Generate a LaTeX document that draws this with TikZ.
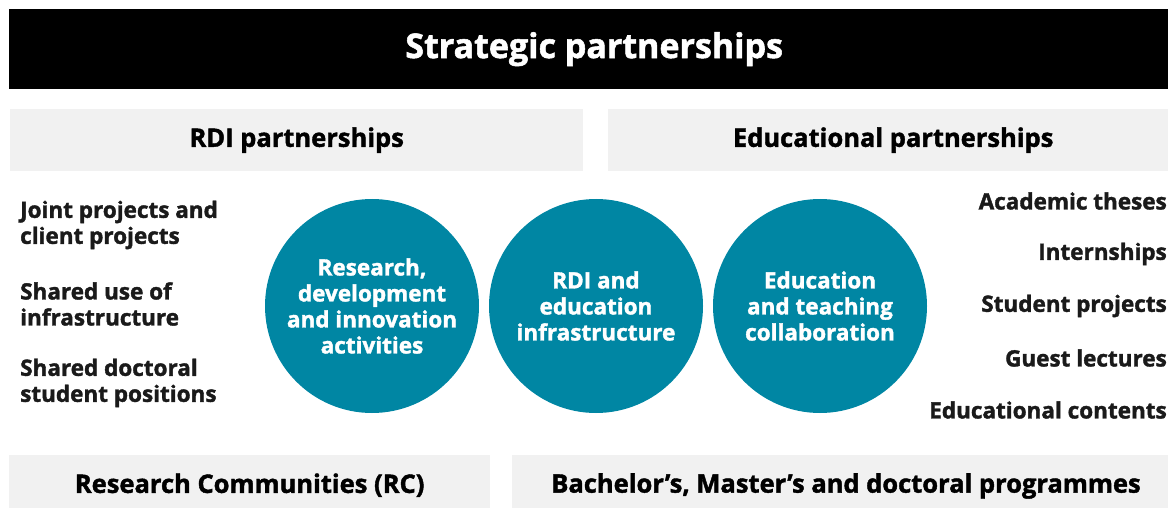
\documentclass[tikz,border=0pt]{standalone}
\usepackage{fontspec}
\setmainfont{Open Sans}[BoldFeatures={FakeBold=1.6}]
\usepackage{tikz}
\usetikzlibrary{positioning}
\definecolor{partteal}{RGB}{0, 134, 163}
\definecolor{partgray}{RGB}{241, 241, 241}
\definecolor{parttext}{RGB}{26, 26, 26}

\begin{document}
\begin{tikzpicture}[x=1pt, y=-1pt,
    bar/.style={fill=partgray, anchor=north west, inner sep=0pt,
                font=\fontsize{25.5}{28}\selectfont\bfseries, text=black},
    hub/.style={circle, fill=partteal, minimum size=214pt, inner sep=0pt,
                text=white, align=center, font=\fontsize{22.5}{26}\selectfont\bfseries},
    item/.style={inner sep=0pt, text=parttext, font=\fontsize{22.5}{26}\selectfont\bfseries}]
  \clip (0,0) rectangle (1168,508);
  % header
  \node[fill=black, anchor=north west, inner sep=0pt, minimum width=1170pt,
        minimum height=80pt, text=white, font=\fontsize{34}{38}\selectfont\bfseries]
        (title) at (9,9) {Strategic partnerships};
  \node[bar, minimum width=573pt, minimum height=62pt] (rdi) at (10,109) {RDI partnerships};
  \node[bar, minimum width=570pt, minimum height=62pt] (edu) at (608,109) {Educational partnerships};
  % circles
  \node[hub] (act) at (372,306) {Research,\\development\\and innovation\\activities};
  \node[hub] (infra) at (596,306) {RDI and\\education\\infrastructure};
  \node[hub] (teach) at (820,306) {Education\\and teaching\\collaboration};
  % left list
  \node[item, anchor=west, align=left] (joint) at (20,225) {Joint projects and\\client projects};
  \node[item, anchor=west, align=left] (shared) at (20,304) {Shared use of\\infrastructure};
  \node[item, anchor=west, align=left] (phd) at (20,383) {Shared doctoral\\student positions};
  % right list
  \node[item, anchor=east] (theses) at (1167,201) {Academic theses};
  \node[item, anchor=east] (intern) at (1167,254) {Internships};
  \node[item, anchor=east] (stud) at (1167,306) {Student projects};
  \node[item, anchor=east] (guest) at (1167,358) {Guest lectures};
  \node[item, anchor=east] (cont) at (1167,410) {Educational contents};
  % footer
  \node[bar, minimum width=481pt, minimum height=60pt] (rc) at (9,455) {Research Communities (RC)};
  \node[bar, minimum width=660pt, minimum height=60pt] (prog) at (512,455) {};
  \node[font=\fontsize{25.5}{28}\selectfont\bfseries, inner sep=0pt] (progtext) at (846,486)
        {Bachelor’s, Master’s and doctoral programmes};
\end{tikzpicture}
\end{document}
